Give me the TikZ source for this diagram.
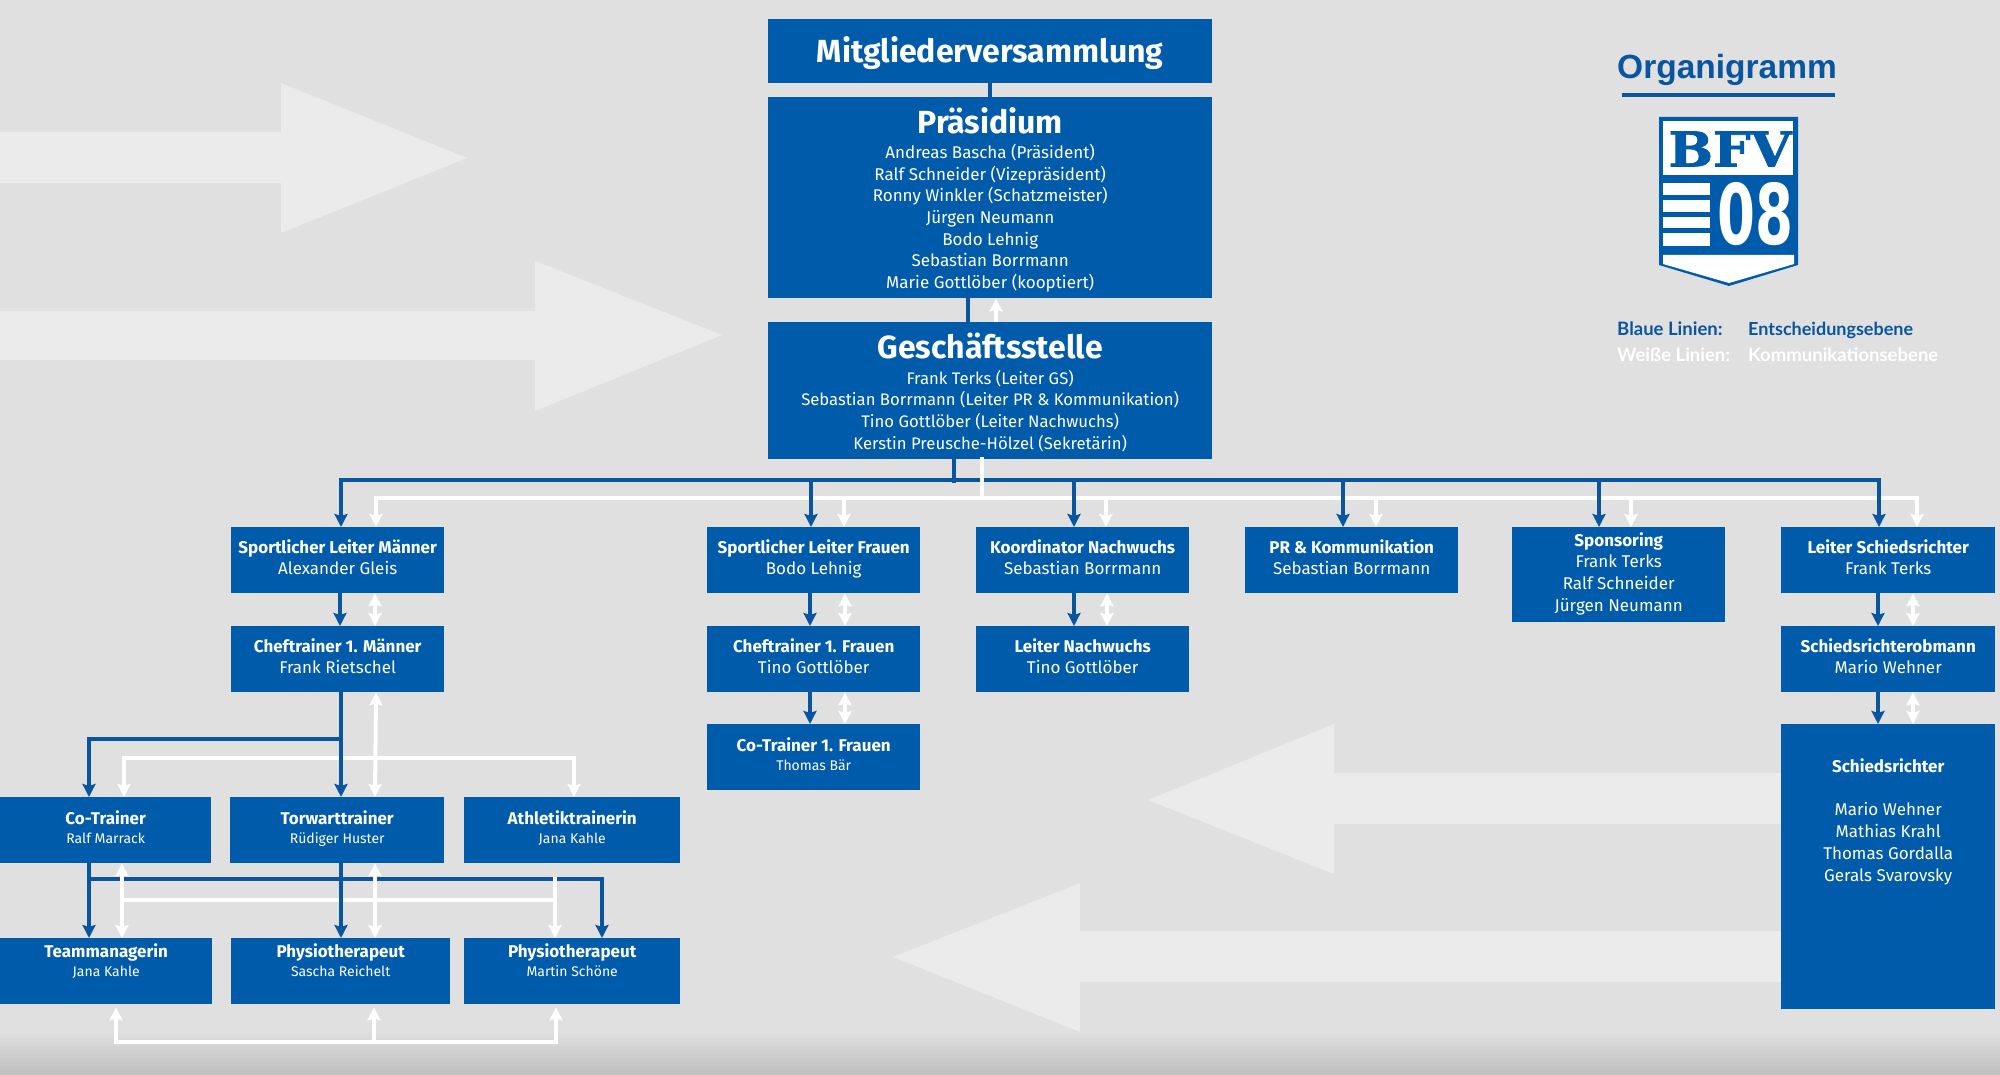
\documentclass[tikz,border=0pt]{standalone}
\usepackage{fontspec}
\setmainfont{Fira Sans}
\newfontfamily\orgfont{Liberation Sans}
\newfontfamily\legendfont{Lato}
\newfontfamily\slabfont[BoldFeatures={FakeBold=1.5}]{DejaVu Serif}
\newfontfamily\logofont{DejaVu Sans}
\usetikzlibrary{arrows.meta}
\definecolor{boxblue}{HTML}{005BAA}
\definecolor{linkblue}{HTML}{0A559F}
\definecolor{paper}{HTML}{E0E0E0}
\definecolor{ghost}{HTML}{EBEBEB}
\newcommand{\ttl}[1]{{\bfseries #1}}
\newcommand{\bigttl}[1]{{\bfseries\fontsize{32}{38}\selectfont\rule{0pt}{32.5pt}#1}}
\newcommand{\smallname}[1]{{\fontsize{14}{18}\selectfont #1}}
\tikzset{
  box/.style 2 args={fill=boxblue,text=white,align=center,anchor=north west,inner sep=0pt,
    minimum width=#1pt,minimum height=#2pt,font=\fontsize{17}{21.7}\selectfont,
    execute at begin node={\rule{0pt}{22.8pt}},execute at end node={\rule[-6pt]{0pt}{6pt}}},
  blueline/.style={draw=linkblue,line width=4.5pt,line cap=rect},
  bluearrow/.style={draw=linkblue,line width=4.5pt,-{Stealth[length=13pt,width=13pt,inset=2pt]}},
  whiteline/.style={draw=white,line width=4pt,line cap=rect},
  whitearrow/.style={draw=white,line width=4pt,-{Stealth[length=13pt,width=13pt,inset=2pt]}},
  whitedouble/.style={draw=white,line width=4pt,{Stealth[length=13pt,width=13pt,inset=2pt]}-{Stealth[length=13pt,width=13pt,inset=2pt]}},
  ghostarrow/.style={fill=ghost},
  logowhite/.style={fill=white}
}
\begin{document}
\begin{tikzpicture}[x=1pt,y=-1pt]
\useasboundingbox (0,0) rectangle (2000,1075);
\fill[paper] (0,0) rectangle (2000,1075);
\shade[top color=paper,bottom color=paper!85!black] (0,1030) rectangle (2000,1075);

\fill[ghostarrow] (0,132) -- (281,132) -- (281,83) -- (467,158) -- (281,233) -- (281,183) -- (0,183) -- cycle;
\fill[ghostarrow] (0,311) -- (535,311) -- (535,261) -- (722,335) -- (535,411) -- (535,360) -- (0,360) -- cycle;
\fill[ghostarrow] (1781,773) -- (1334,773) -- (1334,724) -- (1148,800) -- (1334,874) -- (1334,824) -- (1781,824) -- cycle;
\fill[ghostarrow] (1781,931) -- (1080,931) -- (1080,883) -- (893,957) -- (1080,1032) -- (1080,982) -- (1781,982) -- cycle;

\node[box={444}{64}] (mv) at (768,19) {\bfseries\fontsize{32}{38}\selectfont\rule{0pt}{30pt}Mitgliederversammlung};
\node[box={444}{201}] (praes) at (768,97) {\bigttl{Präsidium}\\[3.5pt]Andreas Bascha (Präsident)\\Ralf Schneider (Vizepräsident)\\Ronny Winkler (Schatzmeister)\\Jürgen Neumann\\Bodo Lehnig\\Sebastian Borrmann\\Marie Gottlöber (kooptiert)};
\node[box={444}{137},font=\fontsize{16.7}{21.7}\selectfont] (gs) at (768,322) {\bigttl{Geschäftsstelle}\\[3.5pt]Frank Terks (Leiter GS)\\Sebastian Borrmann (Leiter PR \& Kommunikation)\\Tino Gottlöber (Leiter Nachwuchs)\\Kerstin Preusche-Hölzel (Sekretärin)};

\node[box={213}{66}] (slm) at (231,527) {\ttl{Sportlicher Leiter Männer}\\Alexander Gleis};
\node[box={213}{66}] (slf) at (707,527) {\ttl{Sportlicher Leiter Frauen}\\Bodo Lehnig};
\node[box={213}{66}] (koord) at (976,527) {\ttl{Koordinator Nachwuchs}\\Sebastian Borrmann};
\node[box={213}{66}] (pr) at (1245,527) {\ttl{PR \& Kommunikation}\\Sebastian Borrmann};
\node[box={213}{95}] (spons) at (1512,527) {\ttl{Sponsoring}\\Frank Terks\\Ralf Schneider\\Jürgen Neumann};
\node[box={214}{66}] (ls) at (1781,527) {\ttl{Leiter Schiedsrichter}\\Frank Terks};

\node[box={213}{66}] (chefm) at (231,626) {\ttl{Cheftrainer 1. Männer}\\Frank Rietschel};
\node[box={213}{66}] (cheff) at (707,626) {\ttl{Cheftrainer 1. Frauen}\\Tino Gottlöber};
\node[box={213}{66}] (ln) at (976,626) {\ttl{Leiter Nachwuchs}\\Tino Gottlöber};
\node[box={214}{66}] (obm) at (1781,626) {\ttl{Schiedsrichterobmann}\\Mario Wehner};

\node[box={213}{66}] (cotf) at (707,724) {\ttl{Co-Trainer 1. Frauen}\\[-3pt]\smallname{Thomas Bär}};
\node[box={214}{285}] (schied) at (1781,724) {\ttl{Schiedsrichter}\\[21.7pt]Mario Wehner\\Mathias Krahl\\Thomas Gordalla\\Gerals Svarovsky\\[66pt]\mbox{}};

\node[box={211}{66}] (cot) at (0,797) {\ttl{Co-Trainer}\\[-3pt]\smallname{Ralf Marrack}};
\node[box={214}{66}] (tw) at (230,797) {\ttl{Torwarttrainer}\\[-3pt]\smallname{Rüdiger Huster}};
\node[box={216}{66}] (ath) at (464,797) {\ttl{Athletiktrainerin}\\[-3pt]\smallname{Jana Kahle}};
\node[box={212}{66}] (tm) at (0,938) {\ttl{Teammanagerin}\\[-3pt]\smallname{Jana Kahle}\\[-6pt]\mbox{}};
\node[box={219}{66}] (ph) at (231,938) {\ttl{Physiotherapeut}\\[-3pt]\smallname{Sascha Reichelt}\\[-6pt]\mbox{}};
\node[box={216}{66}] (phb) at (464,938) {\ttl{Physiotherapeut}\\[-3pt]\smallname{Martin Schöne}\\[-6pt]\mbox{}};

\draw[blueline] (mv.south) -- (praes.north);
\draw[blueline] ([xshift=200pt]praes.south west) -- ([xshift=200pt]gs.north west);
\draw[whitearrow] ([xshift=228pt]gs.north west) -- ([xshift=228pt]praes.south west);

\draw[blueline] ([xshift=186pt]gs.south west) -- ([xshift=186pt,yshift=-21pt]gs.south west);
\draw[blueline] ([xshift=110pt,yshift=47pt]slm.north west) -- ([xshift=98pt,yshift=47pt]ls.north west);
\draw[blueline] ([xshift=89pt,yshift=58pt]cot.north west) -- ([xshift=111pt,yshift=58pt]tw.north west);
\draw[blueline] ([xshift=89pt,yshift=59pt]tm.north west) -- ([xshift=138pt,yshift=59pt]phb.north west);

\draw[whiteline] ([xshift=214pt]gs.south west) -- ([xshift=214pt,yshift=-39pt]gs.south west);
\draw[whiteline] ([xshift=145pt,yshift=29pt]slm.north west) -- ([xshift=136pt,yshift=29pt]ls.north west);
\draw[whiteline] ([xshift=124pt,yshift=39pt]cot.north west) -- ([xshift=110pt,yshift=39pt]ath.north west);
\draw[whiteline] ([xshift=122pt,yshift=38pt]tm.north west) -- ([xshift=91pt,yshift=38pt]phb.north west);
\draw[whiteline] ([xshift=91pt,yshift=59pt]phb.north west) -- ([xshift=91pt,yshift=38pt]phb.north west);
\draw[whitedouble] ([xshift=145pt]chefm.south west) -- ([xshift=145pt]tw.north west);
\draw[whitearrow] ([xshift=124pt,yshift=39pt]cot.north west) -- ([xshift=124pt]cot.north west);
\draw[whitearrow] ([xshift=110pt,yshift=39pt]ath.north west) -- ([xshift=110pt]ath.north west);
\draw[whitedouble] ([xshift=122pt]cot.south west) -- ([xshift=122pt]tm.north west);
\draw[whitedouble] ([xshift=145pt]tw.south west) -- ([xshift=144pt]ph.north west);
\draw[whitearrow] ([xshift=91pt,yshift=38pt]phb.north west) -- ([xshift=91pt]phb.north west);

\foreach \n/\b/\w in {slm/110/145,slf/104/137,koord/98/130,pr/98/131,spons/87/119,ls/98/136} {
  \draw[whitearrow] ([xshift=\w pt,yshift=29pt]\n.north west) -- ([xshift=\w pt]\n.north west);
  \draw[bluearrow] ([xshift=\b pt,yshift=47pt]\n.north west) -- ([xshift=\b pt]\n.north west);
}
\foreach \a/\c/\b/\w in {slm/chefm/109/144,slf/cheff/103/138,cheff/cotf/103/138,koord/ln/98/131,ls/obm/97/132,obm/schied/97/132} {
  \draw[whitedouble] ([xshift=\w pt]\a.south west) -- ([xshift=\w pt]\c.north west);
  \draw[bluearrow] ([xshift=\b pt]\a.south west) -- ([xshift=\b pt]\c.north west);
}
\draw[bluearrow] ([xshift=110pt]chefm.south west) -- ([xshift=111pt]tw.north west);
\draw[bluearrow] ([xshift=89pt,yshift=58pt]cot.north west) -- ([xshift=89pt]cot.north west);
\draw[bluearrow] ([xshift=89pt]cot.south west) -- ([xshift=89pt]tm.north west);
\draw[bluearrow] ([xshift=111pt]tw.south west) -- ([xshift=110pt]ph.north west);
\draw[bluearrow] ([xshift=138pt,yshift=59pt]phb.north west) -- ([xshift=138pt]phb.north west);

\draw[whiteline] ([xshift=116pt,yshift=-38pt]tm.south west) -- ([xshift=92pt,yshift=-38pt]phb.south west);
\foreach \n/\b in {tm/116,ph/143,phb/92} {
  \draw[whitearrow] ([xshift=\b pt,yshift=-38pt]\n.south west) -- ([xshift=\b pt,yshift=-3pt]\n.south west);
}

\node[anchor=base west,inner sep=0pt,text=linkblue,font=\orgfont\bfseries\fontsize{33.5}{40}\selectfont] (orgt) at (1617,79) {Organigramm};
\coordinate (orga) at (1622,95);
\coordinate (orgb) at (1835,95);
\draw[draw=linkblue,line width=4pt] (orga) -- (orgb);

\fill[boxblue] (1659,117) -- (1798,117) -- (1798,265) -- (1729,286) -- (1659,265) -- cycle;
\fill[logowhite] (1663,121) rectangle (1793,175);
\fill[logowhite] (1663,183) rectangle (1710,195);
\fill[logowhite] (1663,200) rectangle (1710,212);
\fill[logowhite] (1663,217) rectangle (1710,228);
\fill[logowhite] (1663,233) rectangle (1710,246);
\fill[logowhite] (1663,255) -- (1794,255) -- (1794,264) -- (1729,283) -- (1663,264) -- cycle;
\node[inner sep=0pt,text=boxblue,xscale=1.1,font=\slabfont\bfseries\fontsize{48}{54}\selectfont] (bfv) at (1730,149) {BFV};
\node[inner sep=0pt,text=white,yscale=1.35,xscale=0.88,font=\logofont\bfseries\fontsize{62}{70}\selectfont] (nulla) at (1755,214) {08};

\node[anchor=base west,inner sep=0pt,text=linkblue,font=\legendfont\bfseries\fontsize{18.5}{22}\selectfont] (lga) at (1617,335) {Blaue Linien:};
\node[anchor=base west,inner sep=0pt,text=linkblue,font=\legendfont\bfseries\fontsize{18}{22}\selectfont] (lgb) at (1748,335) {Entscheidungsebene};
\node[anchor=base west,inner sep=0pt,text=white,font=\legendfont\bfseries\fontsize{18.5}{22}\selectfont] (lgc) at (1617,361) {Weiße Linien:};
\node[anchor=base west,inner sep=0pt,text=white,font=\legendfont\bfseries\fontsize{18.5}{22}\selectfont] (lgd) at (1748,361) {Kommunikationsebene};
\end{tikzpicture}
\end{document}
